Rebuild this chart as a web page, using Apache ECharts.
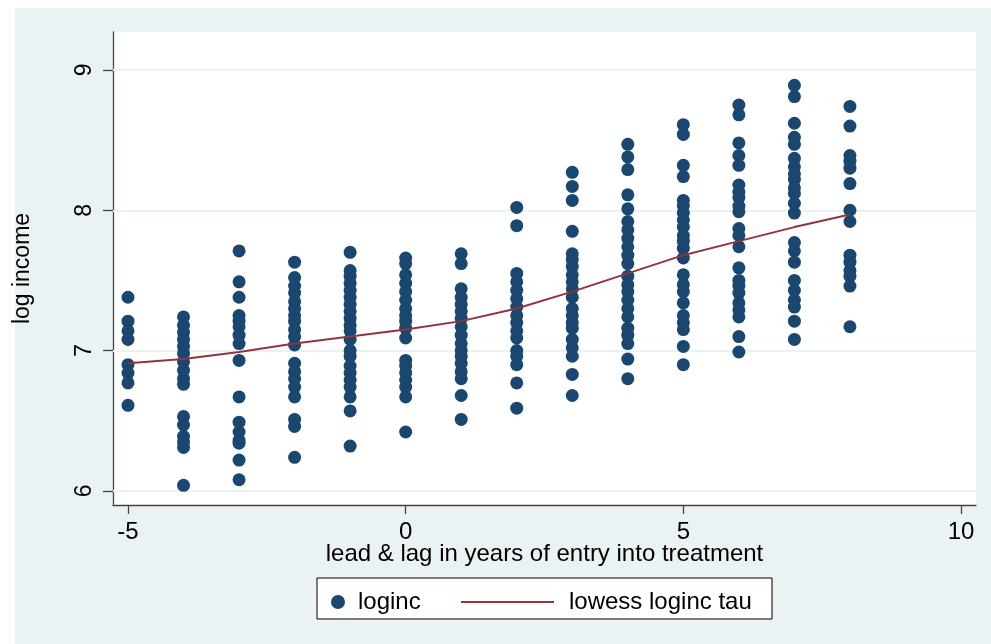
<!DOCTYPE html>
<html>
<head>
<meta charset="utf-8">
<script src="https://cdn.jsdelivr.net/npm/echarts@6/dist/echarts.min.js"></script>
<style>
  html, body { margin: 0; padding: 0; background: #fff; }
  #wrap { position: relative; width: 991px; height: 644px; }
  #bg { position: absolute; left: 15px; top: 8px; right: 0; bottom: 0; background: #eaf2f3; }
  #chart { position: absolute; left: 0; top: 0; width: 991px; height: 644px; }
</style>
</head>
<body>
<div id="wrap">
  <div id="bg"></div>
  <div id="chart"></div>
</div>
<script>
// lead & lag (years relative to entry into treatment)
const years = [-5, -4, -3, -2, -1, 0, 1, 2, 3, 4, 5, 6, 7, 8];

// log income observations, one list per year
const loginc = [
  [7.38, 7.21, 7.14, 7.08, 6.90, 6.84, 6.77, 6.61],
  [7.24, 7.18, 7.13, 7.08, 7.03, 6.98, 6.92, 6.86, 6.80, 6.76, 6.53, 6.47, 6.39, 6.35, 6.31, 6.04],
  [7.71, 7.49, 7.38, 7.25, 7.21, 7.17, 7.11, 7.05, 6.93, 6.67, 6.49, 6.42, 6.36, 6.34, 6.22, 6.08],
  [7.63, 7.52, 7.46, 7.41, 7.35, 7.30, 7.25, 7.21, 7.15, 7.10, 7.04, 6.91, 6.85, 6.80, 6.74, 6.67, 6.51, 6.46, 6.24],
  [7.70, 7.57, 7.53, 7.48, 7.43, 7.38, 7.33, 7.28, 7.23, 7.18, 7.14, 7.08, 7.00, 6.96, 6.89, 6.84, 6.79, 6.74, 6.67, 6.57, 6.32],
  [7.66, 7.62, 7.54, 7.48, 7.42, 7.36, 7.30, 7.25, 7.21, 7.16, 7.09, 6.93, 6.89, 6.84, 6.79, 6.74, 6.67, 6.42],
  [7.69, 7.62, 7.44, 7.38, 7.33, 7.28, 7.23, 7.17, 7.11, 7.05, 7.00, 6.96, 6.91, 6.85, 6.80, 6.68, 6.51],
  [8.02, 7.89, 7.55, 7.49, 7.43, 7.37, 7.31, 7.25, 7.20, 7.14, 7.09, 7.00, 6.96, 6.90, 6.77, 6.59],
  [8.27, 8.17, 8.07, 7.85, 7.69, 7.65, 7.60, 7.54, 7.49, 7.44, 7.38, 7.30, 7.25, 7.20, 7.16, 7.08, 7.02, 6.96, 6.83, 6.68],
  [8.47, 8.38, 8.29, 8.11, 8.01, 7.92, 7.86, 7.80, 7.74, 7.68, 7.62, 7.53, 7.47, 7.42, 7.36, 7.30, 7.24, 7.16, 7.11, 7.05, 6.94, 6.80],
  [8.61, 8.54, 8.32, 8.24, 8.07, 8.03, 7.98, 7.93, 7.88, 7.82, 7.78, 7.73, 7.66, 7.54, 7.47, 7.42, 7.34, 7.25, 7.20, 7.15, 7.03, 6.90],
  [8.75, 8.68, 8.48, 8.39, 8.32, 8.18, 8.13, 8.09, 8.03, 7.99, 7.87, 7.82, 7.74, 7.59, 7.50, 7.46, 7.41, 7.34, 7.29, 7.24, 7.10, 6.99],
  [8.89, 8.81, 8.62, 8.52, 8.47, 8.37, 8.31, 8.26, 8.22, 8.16, 8.12, 8.05, 7.98, 7.77, 7.71, 7.63, 7.50, 7.43, 7.36, 7.31, 7.21, 7.08],
  [8.74, 8.60, 8.39, 8.35, 8.30, 8.19, 8.00, 7.92, 7.68, 7.63, 7.57, 7.53, 7.46, 7.17]
];

// lowess smooth of loginc on tau
const lowess = [6.91, 6.94, 6.99, 7.05, 7.10, 7.15, 7.21, 7.30, 7.42, 7.55, 7.68, 7.78, 7.88, 7.97];

const xTicks = [-5, 0, 5, 10];
const yTicks = [6, 7, 8, 9];

const font = "'Liberation Sans', Arial, sans-serif";

const scatterData = [];
years.forEach((t, i) => {
  loginc[i].forEach(v => scatterData.push([t, v]));
});

const chart = echarts.init(document.getElementById("chart"));
chart.setOption({
  animation: false,
  backgroundColor: "transparent",
  textStyle: { fontFamily: font },
  grid: {
    left: 113,
    right: 15,
    top: 32,
    bottom: 139,
    show: true,
    backgroundColor: "#fff",
    borderWidth: 0,
  },
  xAxis: {
    type: "value",
    min: -5.27,
    max: 10.27,
    name: "lead & lag in years of entry into treatment",
    nameLocation: "middle",
    nameGap: 37,
    nameMoveOverlap: false,
    nameTextStyle: { fontSize: 24, color: "#000", fontFamily: font },
    axisLine: { show: true, onZero: false, lineStyle: { color: "#444", width: 1.3 } },
    axisTick: { show: true, customValues: xTicks, length: 9, lineStyle: { color: "#444", width: 1.3 } },
    axisLabel: { customValues: xTicks, fontSize: 24, color: "#000", margin: 15, fontFamily: font },
    splitLine: { show: false },
  },
  yAxis: {
    type: "value",
    min: 5.9,
    max: 9.27,
    name: "log income",
    nameLocation: "middle",
    nameRotate: 90,
    nameGap: 79,
    nameMoveOverlap: false,
    nameTextStyle: { fontSize: 23, color: "#000", fontFamily: font },
    axisLine: { show: true, onZero: false, lineStyle: { color: "#444", width: 1.3 } },
    axisTick: { show: true, customValues: yTicks, length: 10, lineStyle: { color: "#444", width: 1.3 } },
    axisLabel: { customValues: yTicks, rotate: 90, fontSize: 23, color: "#000", margin: 17, fontFamily: font },
    splitLine: { show: false },
  },
  legend: [
    {
      data: ["loginc"],
      left: 326,
      top: 585,
      icon: "circle",
      itemWidth: 14,
      itemHeight: 14,
      textStyle: { fontSize: 24, color: "#000", fontFamily: font, padding: [0, 0, 0, 8] },
      selectedMode: false,
    },
    {
      data: ["lowess loginc tau"],
      left: 456,
      top: 585,
      icon: "rect",
      itemWidth: 93,
      itemHeight: 2,
      textStyle: { fontSize: 24, color: "#000", fontFamily: font, padding: [0, 0, 0, 10] },
      selectedMode: false,
    },
  ],
  graphic: [
    {
      type: "rect",
      shape: { x: 317, y: 578, width: 455, height: 41 },
      style: { fill: "#fff", stroke: "#000", lineWidth: 1 },
      silent: true,
    },
  ],
  series: [
    {
      // horizontal grid lines at the y ticks
      type: "line",
      name: "grid",
      data: [],
      z: 1,
      silent: true,
      markLine: {
        z: 1,
        silent: true,
        symbol: "none",
        label: { show: false },
        lineStyle: { color: "#eaf2f3", width: 2, type: "solid" },
        data: yTicks.map(v => ({ yAxis: v })),
      },
    },
    {
      type: "scatter",
      name: "loginc",
      data: scatterData,
      symbol: "circle",
      symbolSize: 13,
      itemStyle: { color: "#1a476f", opacity: 1 },
      z: 3,
    },
    {
      type: "line",
      name: "lowess loginc tau",
      data: years.map((t, i) => [t, lowess[i]]),
      showSymbol: false,
      symbol: "none",
      smooth: false,
      lineStyle: { color: "#90353b", width: 2 },
      itemStyle: { color: "#90353b" },
      z: 4,
    },
  ],
});
</script>
</body>
</html>
